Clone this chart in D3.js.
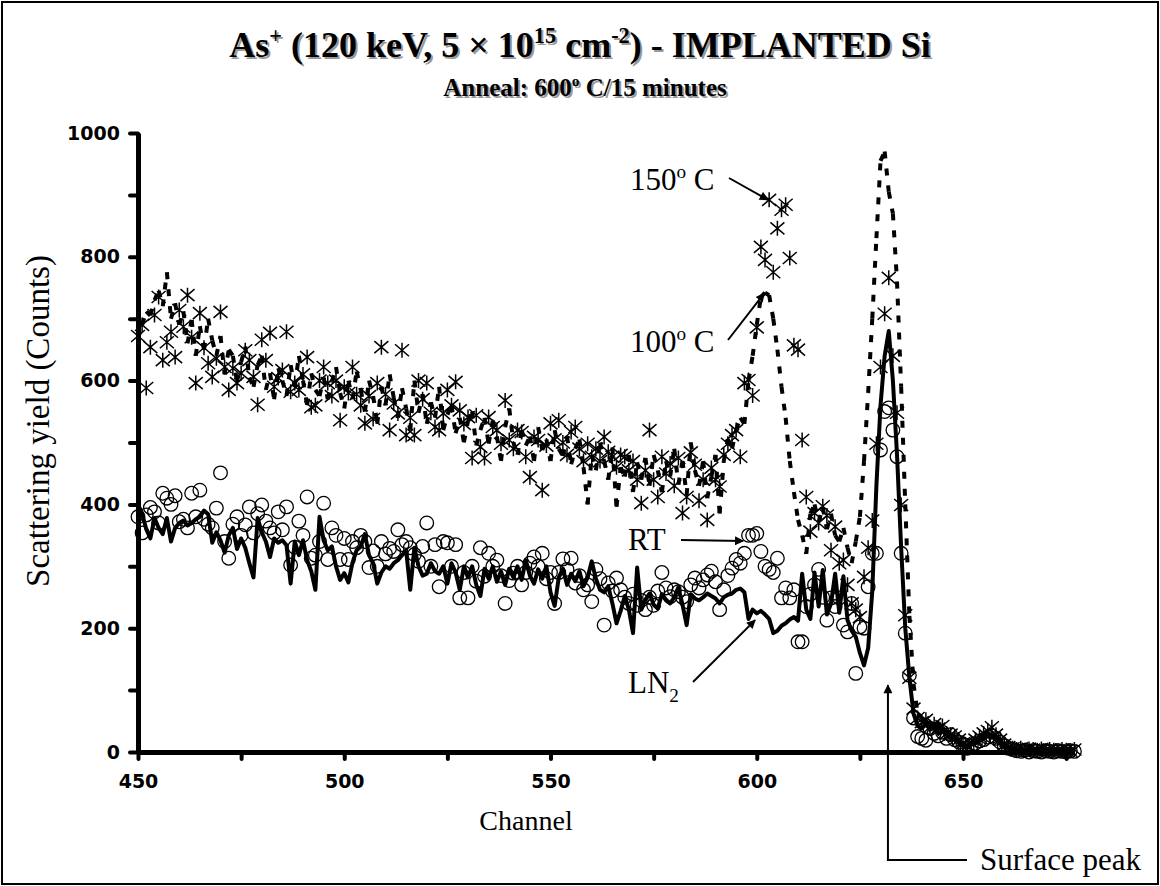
<!DOCTYPE html>
<html>
<head>
<meta charset="utf-8">
<script src="https://cdn.jsdelivr.net/npm/d3@7"></script>
<style>
  html, body { margin: 0; padding: 0; background: #fff; }
  svg { display: block; }
</style>
</head>
<body>
<div id="chart"></div>
<script>
// channels run 450..677, one count per channel in every series
const firstChannel = 450;

// LN2 implant (thick solid line)
const ln2 = [
  400, 385, 360, 345, 378, 362, 352, 378, 340, 362,
  370, 374, 366, 370, 376, 380, 390, 384, 338, 355,
  342, 322, 350, 362, 328, 345, 330, 305, 282, 378,
  355, 340, 315, 345, 338, 342, 334, 272, 340, 318,
  342, 310, 292, 262, 380, 342, 326, 332, 300, 278,
  289, 274, 306, 326, 332, 352, 318, 305, 272, 290,
  300, 296, 305, 310, 318, 326, 262, 330, 300, 285,
  288, 305, 292, 288, 300, 272, 305, 290, 262, 300,
  282, 300, 270, 252, 296, 280, 300, 275, 292, 270,
  296, 282, 300, 278, 310, 285, 272, 295, 280, 300,
  258, 236, 282, 296, 270, 288, 276, 292, 268, 282,
  308, 280, 262, 258, 268, 240, 208, 228, 252, 230,
  192, 298, 230, 246, 256, 238, 232, 255, 246, 240,
  250, 266, 238, 205, 255, 248, 245, 250, 256, 252,
  248, 240, 250, 254, 256, 262, 264, 258, 215, 230,
  224, 228, 222, 215, 192, 196, 204, 208, 214, 218,
  212, 288, 230, 215, 290, 235, 294, 222, 240, 288,
  225, 284, 213, 196, 186, 160, 140, 168, 260, 430,
  560, 640, 680, 600, 480, 330, 200, 120, 62, 42,
  38, 45, 36, 40, 30, 34, 28, 22, 20, 14,
  10, 8, 12, 14, 18, 22, 26, 24, 20, 14,
  8, 5, 4, 3, 4, 2, 3, 4, 3, 2,
  3, 2, 3, 2, 3, 2, 2, 3
];

// room temperature implant (open circles)
const rt = [
  380, 354, 383, 395, 388, 370, 418, 410, 400, 414,
  372, 376, 362, 418, 380, 423, 376, 368, 362, 394,
  451, 340, 313, 368, 380, 350, 367, 396, 354, 385,
  399, 373, 362, 354, 388, 359, 396, 302, 331, 373,
  350, 412, 313, 318, 340, 402, 311, 362, 350, 311,
  345, 311, 340, 330, 350, 340, 298, 325, 300, 340,
  320, 329, 324, 359, 335, 340, 330, 319, 308, 332,
  370, 300, 335, 267, 340, 338, 300, 335, 249, 290,
  249, 300, 276, 330, 284, 321, 300, 310, 285, 240,
  277, 289, 300, 270, 290, 305, 315, 300, 321, 280,
  290, 240, 290, 312, 295, 313, 273, 285, 262, 270,
  243, 295, 280, 205, 273, 260, 281, 262, 250, 240,
  255, 237, 245, 230, 250, 237, 260, 290, 265, 251,
  262, 259, 250, 243, 270, 281, 265, 278, 286, 292,
  275, 230, 262, 285, 297, 311, 305, 321, 350, 350,
  353, 324, 300, 295, 290, 313, 249, 265, 249, 262,
  178, 178, 235, 255, 270, 295, 250, 213, 249, 235,
  249, 205, 194, 240, 127, 202, 200, 267, 321, 321,
  488, 550, 556, 520, 477, 321, 192, 124, 55, 25,
  22, 19, 38, 30, 26, 32, 22, 28, 20, 16,
  12, 6, 10, 14, 18, 20, 24, 26, 22, 16,
  10, 6, 4, 2, 1, 3, 0, 2, 1, 0,
  2, 1, 0, 2, 1, 0, 2, 1
];

// 100 C implant (dotted line)
const hot100 = [
  668, 690, 712, 705, 730, 745, 720, 775, 700, 725,
  690, 712, 660, 698, 640, 688, 650, 700, 665, 640,
  672, 610, 650, 640, 598, 630, 655, 605, 590, 625,
  640, 585, 612, 570, 620, 600, 575, 625, 590, 640,
  600, 560, 612, 585, 575, 605, 570, 598, 622, 580,
  555, 600, 570, 615, 585, 550, 600, 575, 530, 590,
  560, 610, 572, 540, 588, 555, 520, 600, 548, 578,
  530, 565, 540, 590, 520, 545, 560, 515, 540, 500,
  535, 550, 495, 520, 540, 498, 535, 510, 470, 525,
  555, 500, 480, 520, 495, 510, 470, 525, 488, 505,
  470, 520, 490, 478, 510, 465, 490, 505, 460, 400,
  480, 455, 500, 470, 440, 492, 396, 460, 445, 480,
  420, 468, 440, 475, 430, 480, 455, 420, 470, 445,
  490, 432, 470, 415, 500, 455, 430, 470, 410, 445,
  480, 385, 470, 505, 490, 520, 540, 530, 600, 640,
  690, 735, 742, 738, 700, 650, 590, 540, 470, 420,
  375, 350, 320, 385, 400, 372, 395, 360, 385, 350,
  340, 362, 330, 305, 340, 380, 470, 580, 700, 830,
  955, 970, 905, 870, 760, 590, 400, 220, 110, 62,
  55, 50, 45, 40, 48, 38, 30, 28, 25, 18,
  12, 10, 14, 18, 22, 28, 30, 26, 22, 15,
  10, 6, 5, 4, 5, 3, 4, 3, 5, 3,
  4, 3, 2, 4, 3, 2, 3, 2
];

// 150 C implant (asterisks)
const hot150 = [
  672, 690, 588, 654, 706, 735, 633, 662, 679, 638,
  714, 687, 738, 670, 596, 709, 653, 628, 606, 636,
  711, 622, 585, 620, 596, 612, 649, 633, 606, 561,
  666, 633, 677, 590, 604, 617, 679, 582, 596, 585,
  610, 638, 557, 560, 600, 622, 596, 575, 600, 536,
  590, 580, 622, 578, 560, 531, 575, 538, 596, 654,
  578, 520, 563, 547, 649, 512, 540, 512, 600, 570,
  596, 548, 525, 520, 547, 585, 560, 598, 552, 530,
  541, 475, 544, 493, 475, 541, 525, 520, 498, 568,
  504, 490, 520, 517, 477, 444, 509, 504, 423, 495,
  531, 505, 536, 500, 480, 517, 525, 490, 470, 498,
  477, 490, 470, 509, 485, 477, 460, 480, 477, 455,
  470, 440, 402, 455, 520, 440, 412, 477, 450, 466,
  430, 475, 386, 412, 484, 464, 406, 440, 375, 459,
  440, 429, 480, 498, 512, 520, 477, 596, 601, 576,
  686, 816, 795, 892, 775, 846, 876, 884, 798, 657,
  650, 504, 412, 356, 386, 370, 397, 382, 326, 364,
  305, 310, 270, 240, 230, 218, 283, 330, 374, 498,
  622, 708, 766, 640, 548, 399, 221, 120, 70, 55,
  48, 52, 40, 45, 38, 42, 30, 28, 25, 20,
  14, 10, 15, 20, 25, 30, 34, 40, 28, 20,
  12, 8, 6, 4, 6, 3, 5, 4, 3, 5,
  2, 4, 3, 2, 4, 3, 2, 4
];

const yTickValues = [0, 100, 200, 300, 400, 500, 600, 700, 800, 900, 1000];
const yTickLabels = [0, 200, 400, 600, 800, 1000];
const xTickValues = [450, 475, 500, 525, 550, 575, 600, 625, 650, 675];
const xTickLabels = [450, 500, 550, 600, 650];

const channels = d3.range(firstChannel, firstChannel + ln2.length);

const W = 1160, H = 886;
const serif = '"Liberation Serif", "Times New Roman", serif';
const sans = '"DejaVu Sans", Verdana, sans-serif';

const svg = d3.select('#chart').append('svg')
  .attr('width', W).attr('height', H);

svg.append('rect')
  .attr('x', 2).attr('y', 2).attr('width', W - 4).attr('height', H - 4)
  .attr('fill', '#fff').attr('stroke', '#000').attr('stroke-width', 2);

const defs = svg.append('defs');
defs.append('marker')
  .attr('id', 'arrow')
  .attr('viewBox', '0 0 10 10')
  .attr('refX', 9).attr('refY', 5)
  .attr('markerWidth', 12).attr('markerHeight', 9)
  .attr('markerUnits', 'userSpaceOnUse')
  .attr('orient', 'auto')
  .append('path').attr('d', 'M0,0 L10,5 L0,10 Z').attr('fill', '#000');

// scales
const x = d3.scaleLinear().domain([450, 677]).range([138, 1074.4]);
const y = d3.scaleLinear().domain([0, 1000]).range([752, 133]);

// writes text parts with superscripts / subscripts into a <text>
function richText(sel, parts, size) {
  let shift = 0;
  parts.forEach(p => {
    const ts = sel.append('tspan').text(p.t);
    let target = 0;
    if (p.sup) target = -size * 0.4;
    if (p.sub) target = size * 0.28;
    if (target !== shift) ts.attr('dy', target - shift);
    shift = target;
    if (p.sup || p.sub) ts.style('font-size', (size * 0.62) + 'px');
  });
}

function shadowText(parts, cx, baseline, size) {
  [['#9a9a9a', 2], ['#000', 0]].forEach(([fill, off]) => {
    const t = svg.append('text')
      .attr('x', cx + off).attr('y', baseline + off)
      .attr('text-anchor', 'middle')
      .style('font-family', serif)
      .style('font-weight', 'bold')
      .style('font-size', size + 'px')
      .attr('fill', fill);
    richText(t, parts, size);
  });
}

// titles
shadowText([
  { t: 'As' }, { t: '+', sup: true }, { t: ' (120 keV, 5 \u00d7 10' },
  { t: '15', sup: true }, { t: ' cm' }, { t: '-2', sup: true },
  { t: ') - IMPLANTED Si' }
], 580, 57, 36);
shadowText([
  { t: 'Anneal: 600' }, { t: 'o', sup: true }, { t: ' C/15 minutes' }
], 585, 96, 25);

// axes
const yAxis = d3.axisLeft(y)
  .tickValues(yTickValues)
  .tickFormat(d => yTickLabels.includes(d) ? d : '')
  .tickSize(8).tickSizeOuter(0).tickPadding(10);
const xAxis = d3.axisBottom(x)
  .tickValues(xTickValues)
  .tickFormat(d => xTickLabels.includes(d) ? d : '')
  .tickSize(7).tickSizeOuter(0).tickPadding(16);

const gx = svg.append('g').attr('transform', `translate(0,${y(0)})`).call(xAxis);
const gy = svg.append('g').attr('transform', `translate(${x(450)},0)`).call(yAxis);

[gx, gy].forEach(g => {
  g.select('.domain').attr('stroke', '#000').attr('stroke-width', 5);
  g.selectAll('.tick line').attr('stroke', '#000').attr('stroke-width', 4)
    .attr('stroke-linecap', 'round');
  g.selectAll('.tick text')
    .attr('fill', '#000')
    .style('font-family', sans)
    .style('font-weight', 'bold')
    .style('font-size', '19px');
});

svg.append('text')
  .attr('x', 526).attr('y', 830)
  .attr('text-anchor', 'middle')
  .style('font-family', serif).style('font-size', '28px')
  .text('Channel');

svg.append('text')
  .attr('transform', 'translate(49,421) rotate(-90)')
  .attr('text-anchor', 'middle')
  .style('font-family', serif).style('font-size', '33px')
  .text('Scattering yield (Counts)');

// series
const pts = vals => vals.map((v, i) => [channels[i], v]);

// dotted series: dash pattern restarts on every segment, like the original plot
svg.append('g').selectAll('line')
  .data(d3.pairs(pts(hot100)))
  .join('line')
  .attr('x1', d => x(d[0][0])).attr('y1', d => y(d[0][1]))
  .attr('x2', d => x(d[1][0])).attr('y2', d => y(d[1][1]))
  .attr('stroke', '#000')
  .attr('stroke-width', 4)
  .attr('stroke-dasharray', '7,10');

const star = 'M-7,-6L7,6M-7,6L7,-6M0,-7.5L0,7.5';
svg.append('g').selectAll('path')
  .data(pts(hot150))
  .join('path')
  .attr('transform', d => `translate(${x(d[0])},${y(d[1])})`)
  .attr('d', star)
  .attr('fill', 'none')
  .attr('stroke', '#000')
  .attr('stroke-width', 1.5);

svg.append('g').selectAll('circle')
  .data(pts(rt))
  .join('circle')
  .attr('cx', d => x(d[0]))
  .attr('cy', d => y(d[1]))
  .attr('r', 6.8)
  .attr('fill', 'none')
  .attr('stroke', '#000')
  .attr('stroke-width', 1.3);

svg.append('path')
  .attr('d', d3.line().x(d => x(d[0])).y(d => y(d[1]))(pts(ln2)))
  .attr('fill', 'none')
  .attr('stroke', '#000')
  .attr('stroke-width', 4)
  .attr('stroke-linejoin', 'round');

// annotations: label text position (px) and arrow tip in data units
const notes = [
  { parts: [{ t: '150' }, { t: 'o', sup: true }, { t: ' C' }], tx: 630, ty: 190, from: [729, 178], tip: [602.7, 892] },
  { parts: [{ t: '100' }, { t: 'o', sup: true }, { t: ' C' }], tx: 630, ty: 352, from: [728, 340], tip: [601.8, 741] },
  { parts: [{ t: 'RT' }], tx: 628, ty: 550, from: [681, 540], tip: [596.7, 341] },
  { parts: [{ t: 'LN' }, { t: '2', sub: true }], tx: 628, ty: 693, from: [693, 682], tip: [599.6, 213] }
];

notes.forEach(n => {
  const t = svg.append('text')
    .attr('x', n.tx).attr('y', n.ty)
    .style('font-family', serif).style('font-size', '31px');
  richText(t, n.parts, 31);
  svg.append('line')
    .attr('x1', n.from[0]).attr('y1', n.from[1])
    .attr('x2', x(n.tip[0])).attr('y2', y(n.tip[1]))
    .attr('stroke', '#000').attr('stroke-width', 2)
    .attr('marker-end', 'url(#arrow)');
});

// surface peak callout
const peakChannel = 631.8;
svg.append('polyline')
  .attr('points', `967,860 ${x(peakChannel)},860 ${x(peakChannel)},${y(108)}`)
  .attr('fill', 'none')
  .attr('stroke', '#000').attr('stroke-width', 2)
  .attr('marker-end', 'url(#arrow)');
svg.append('text')
  .attr('x', 980).attr('y', 870)
  .style('font-family', serif).style('font-size', '31px')
  .text('Surface peak');
</script>
</body>
</html>
